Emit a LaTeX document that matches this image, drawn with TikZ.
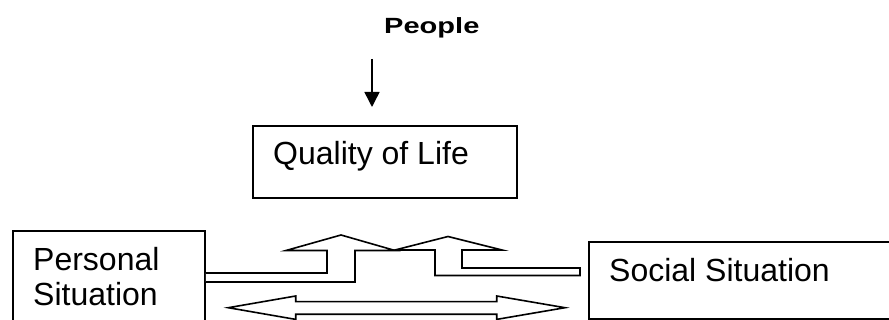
\documentclass[tikz,border=0pt]{standalone}
\usepackage{fontspec}
\setmainfont{Liberation Sans}
\usetikzlibrary{arrows.meta}
\begin{document}
\begin{tikzpicture}[x=1pt,y=-1pt,
  box/.style={draw,line width=1.8pt,rectangle,inner sep=0pt,anchor=north west},
  lbl/.style={anchor=base west,inner sep=0pt,font=\fontsize{32}{35}\selectfont},
  blockarrow/.style={draw,line width=1.6pt,line join=miter,fill=white}]
\useasboundingbox (0,0) rectangle (889,320);
\clip (0,0) rectangle (889,320);
\fill[white] (0,0) rectangle (889,320);
% boxes
\node[box,minimum width=264pt,minimum height=72pt] (qol) at (252,125) {};
\node[box,minimum width=192pt,minimum height=110pt] (pers) at (12,230) {};
\node[box,minimum width=320pt,minimum height=77pt] (soc) at (588,241) {};
% labels
\node[anchor=base west,inner sep=0pt,font=\fontsize{22}{24}\selectfont\bfseries] (people) at (384,34) {\scalebox{1.32}[1]{People}};
\node[lbl] (qoltxt) at (273,165) {Quality of Life};
\node[lbl] (perstxt1) at (33,270.7) {Personal};
\node[lbl] (perstxt2) at (33,306) {Situation};
\node[lbl] (soctxt) at (609,281.7) {Social Situation};
% people arrow
\coordinate (pa1) at (372,59);
\coordinate (pa2) at (372,107);
\draw[line width=1.5pt,-{Triangle[width=15pt,length=15pt]}] (pa1) -- (pa2);
% bent block arrows
\draw[blockarrow] (pers.north east |- 0,273) -- (327,273) -- (327,250.5) -- (286,250.5) -- (341,235) -- (395,250.5) -- (355,250.5) -- (355,282) -- (pers.north east |- 0,282);
\draw[blockarrow] (580,268) -- (462,268) -- (462,250) -- (502,250) -- (448,236.5) -- (395,250) -- (435,250) -- (435,275.5) -- (580,275.5) -- cycle;
% double block arrow
\draw[blockarrow] (228.3,307.7) -- (295.7,296) -- (295.7,301.7) -- (496.7,301.7) -- (496.7,296) -- (565,307.7) -- (496.7,319.4) -- (496.7,314.3) -- (295.7,314.3) -- (295.7,319.4) -- cycle;
\end{tikzpicture}
\end{document}
